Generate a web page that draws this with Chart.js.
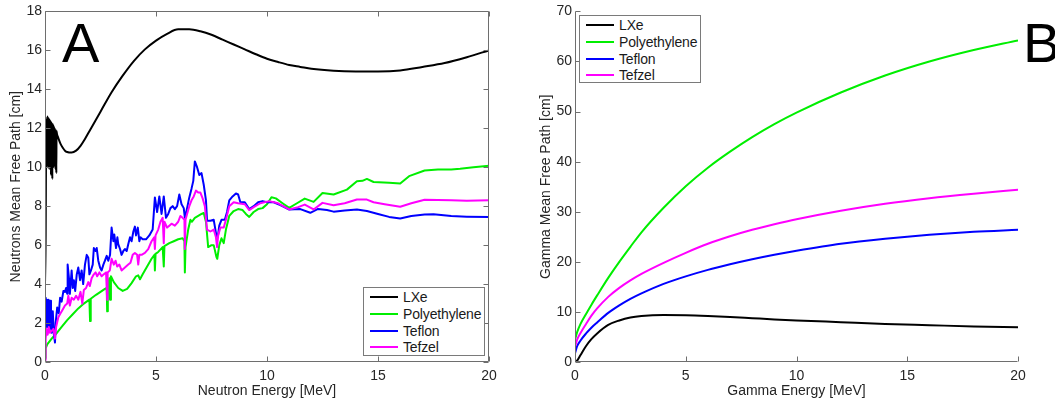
<!DOCTYPE html>
<html><head><meta charset="utf-8">
<script src="https://cdn.jsdelivr.net/npm/chart.js@4.4.1/dist/chart.umd.min.js"></script>
<style>
html,body{margin:0;padding:0;background:#fff;}
#wrap{position:relative;width:1055px;height:400px;overflow:hidden;font-family:"Liberation Sans",Arial,sans-serif;}
.box{position:absolute;top:0;height:400px;}
.legend{position:absolute;border:1px solid #7a7a7a;background:#fff;box-sizing:border-box;padding:1px 0 0 6px;}
.row{display:flex;align-items:center;height:16.7px;font-size:14px;color:#1a1a1a;white-space:nowrap;letter-spacing:-0.15px;}
.sw{width:28px;height:2px;margin-right:5px;flex:none;}
</style></head>
<body><div id="wrap">
<div class="box" style="left:0;width:530px;"><canvas id="cA"></canvas></div>
<div class="box" style="left:530px;width:525px;"><canvas id="cB"></canvas></div>
<div class="legend" id="legA" style="left:363px;top:287px;width:122px;height:69px;"></div>
<div class="legend" id="legB" style="left:579px;top:15px;width:122px;height:68px;"></div>
</div>
<script>
// ---------- DATA ----------
const seriesNames = ['LXe', 'Polyethylene', 'Teflon', 'Tefzel'];
const energyTicks = [0, 5, 10, 15, 20];
const neutronYTicks = [0, 2, 4, 6, 8, 10, 12, 14, 16, 18];
const gammaYTicks = [0, 10, 20, 30, 40, 50, 60, 70];

// Neutron mean free path (panel A)
const nLxeE = [0, 0.03, 0.05, 0.06, 0.07, 0.08, 0.09, 0.10, 0.11, 0.12, 0.13, 0.14, 0.15, 0.16, 0.17, 0.18, 0.19, 0.20, 0.21, 0.22, 0.23, 0.24, 0.25, 0.26, 0.27, 0.28, 0.29, 0.30, 0.31, 0.32, 0.33, 0.34, 0.35, 0.36, 0.37, 0.38, 0.39, 0.40, 0.41, 0.42, 0.43, 0.44, 0.45, 0.46, 0.47, 0.48, 0.49, 0.50, 0.51, 0.52, 0.54, 0.6, 0.7, 0.8, 0.9, 1.0, 1.2, 1.4, 1.6, 1.8, 2.0, 2.25, 2.5, 3.0, 3.5, 4.0, 4.5, 5.0, 5.5, 6.0, 6.5, 7.0, 7.5, 8.0, 8.5, 9.0, 9.5, 10, 10.5, 11, 11.5, 12, 13, 14, 15, 16, 17, 18, 19, 20];
const nLxeV = [4.0, 6.5, 11.5, 12.2, 10.3, 12.5, 10.1, 12.6, 10.4, 12.6, 10.0, 12.55, 10.5, 12.5, 10.2, 12.5, 9.9, 12.45, 10.6, 12.4, 10.2, 12.4, 10.4, 12.35, 9.6, 12.3, 10.5, 12.3, 10.1, 12.25, 9.4, 12.2, 10.3, 12.2, 10.6, 12.15, 10.0, 12.1, 10.5, 12.05, 10.2, 12.0, 10.6, 11.95, 9.9, 11.9, 10.4, 11.9, 9.7, 11.85, 11.7, 11.5, 11.2, 11.0, 10.85, 10.78, 10.75, 10.85, 11.1, 11.45, 11.85, 12.35, 12.85, 13.85, 14.7, 15.45, 16.05, 16.5, 16.85, 17.08, 17.08, 16.98, 16.8, 16.55, 16.3, 16.05, 15.8, 15.57, 15.4, 15.25, 15.15, 15.05, 14.95, 14.92, 14.92, 14.97, 15.15, 15.35, 15.65, 16.0];

const nPolyE = [0, 0.03, 0.1, 0.3, 0.5, 0.75, 1.0, 1.25, 1.5, 1.75, 2.0, 2.03, 2.06, 2.3, 2.5, 2.7, 2.78, 2.8, 2.83, 2.9, 2.93, 2.97, 3.1, 3.3, 3.5, 3.7, 3.9, 4.1, 4.2, 4.28, 4.4, 4.6, 4.8, 4.93, 4.95, 4.98, 5.1, 5.3, 5.35, 5.38, 5.6, 5.8, 6.0, 6.2, 6.28, 6.3, 6.33, 6.45, 6.55, 6.62, 6.75, 6.9, 7.05, 7.15, 7.25, 7.35, 7.5, 7.6, 7.72, 7.76, 7.85, 7.95, 8.05, 8.15, 8.3, 8.5, 8.7, 8.9, 9.05, 9.2, 9.4, 9.6, 9.8, 10.0, 10.2, 10.4, 10.7, 11.0, 11.35, 11.7, 12.1, 12.5, 13.0, 13.6, 14.05, 14.3, 14.5, 14.8, 15.5, 16.0, 16.4, 17.1, 17.7, 18.3, 18.7, 19.3, 20.0];
const nPolyV = [0.2, 0.7, 0.9, 1.2, 1.45, 1.8, 2.15, 2.45, 2.75, 3.0, 3.2, 2.1, 3.25, 3.45, 3.6, 3.75, 3.8, 2.6, 3.85, 4.3, 3.2, 4.4, 4.1, 3.8, 3.65, 3.75, 4.05, 4.4, 4.45, 4.25, 4.5, 4.9, 5.3, 5.5, 4.7, 5.55, 5.65, 5.9, 4.9, 5.95, 6.1, 6.2, 6.3, 6.35, 6.2, 4.6, 5.9, 6.8, 7.3, 7.2, 7.4, 7.5, 7.6, 7.65, 7.2, 5.9, 6.0, 6.0, 5.4, 5.3, 6.0, 6.35, 6.1, 6.8, 7.5, 7.75, 7.85, 7.8, 7.6, 7.45, 7.7, 7.85, 7.9, 8.1, 8.46, 8.4, 8.15, 7.91, 8.15, 8.39, 8.22, 8.68, 8.6, 8.85, 9.28, 9.3, 9.4, 9.24, 9.2, 9.16, 9.54, 9.83, 9.88, 9.88, 9.92, 10.0, 10.07];

const nTeflonE = [0, 0.03, 0.06, 0.09, 0.12, 0.16, 0.20, 0.23, 0.27, 0.30, 0.35, 0.40, 0.45, 0.48, 0.55, 0.62, 0.68, 0.75, 0.83, 0.90, 0.95, 1.00, 1.02, 1.08, 1.12, 1.20, 1.25, 1.30, 1.36, 1.43, 1.50, 1.58, 1.65, 1.72, 1.80, 1.88, 1.95, 2.0, 2.07, 2.15, 2.2, 2.28, 2.33, 2.4, 2.48, 2.55, 2.63, 2.7, 2.78, 2.85, 2.93, 3.0, 3.08, 3.12, 3.2, 3.26, 3.3, 3.38, 3.45, 3.53, 3.6, 3.68, 3.75, 3.83, 3.9, 3.98, 4.05, 4.1, 4.18, 4.25, 4.3, 4.4, 4.55, 4.7, 4.85, 4.95, 5.05, 5.15, 5.25, 5.35, 5.45, 5.55, 5.65, 5.75, 5.85, 5.95, 6.05, 6.15, 6.25, 6.3, 6.4, 6.5, 6.6, 6.68, 6.75, 6.85, 6.95, 7.05, 7.15, 7.25, 7.3, 7.45, 7.6, 7.72, 7.78, 7.85, 7.95, 8.1, 8.2, 8.3, 8.45, 8.6, 8.7, 8.8, 9.0, 9.2, 9.4, 9.6, 9.8, 10.0, 10.3, 10.6, 11.0, 11.5, 11.95, 12.3, 12.7, 13.0, 13.5, 14.05, 14.5, 15.0, 15.5, 16.0, 16.5, 17.1, 17.5, 18.3, 19.0, 20.0];
const nTeflonV = [1.5, 3.3, 2.2, 3.2, 1.8, 3.2, 1.7, 3.15, 2.0, 1.5, 2.6, 1.4, 1.0, 2.0, 2.8, 2.5, 3.3, 3.1, 3.65, 3.6, 3.8, 3.5, 5.0, 4.3, 3.5, 4.7, 3.8, 4.2, 3.65, 4.5, 4.85, 4.2, 4.7, 4.0, 5.0, 5.5, 5.35, 4.5, 4.7, 5.0, 5.85, 5.7, 5.85, 5.2, 4.85, 4.7, 5.0, 5.2, 5.45, 5.2, 5.5, 6.9, 6.2, 6.55, 5.85, 6.4, 6.05, 5.8, 5.5, 5.7, 5.8, 5.7, 6.05, 6.4, 6.2, 6.7, 6.95, 6.5, 6.9, 6.2, 6.4, 6.3, 6.3, 6.5, 6.8, 8.45, 7.7, 8.5, 7.6, 8.5, 7.4, 7.6, 7.9, 8.0, 7.85, 8.0, 8.6, 8.1, 7.9, 7.4, 7.9, 8.45, 8.9, 9.3, 10.3, 10.0, 9.6, 9.7, 9.1, 8.3, 7.25, 7.25, 7.3, 6.5, 6.4, 7.0, 7.3, 7.3, 7.7, 8.3, 8.5, 8.65, 8.6, 8.2, 8.2, 7.85, 8.0, 8.2, 8.26, 8.2, 8.2, 8.05, 7.83, 7.85, 7.66, 7.86, 7.8, 7.72, 7.78, 7.83, 7.75, 7.6, 7.45, 7.37, 7.5, 7.57, 7.58, 7.49, 7.46, 7.44];

const nTefzelE = [0, 0.03, 0.07, 0.12, 0.17, 0.22, 0.3, 0.38, 0.45, 0.5, 0.6, 0.7, 0.8, 0.9, 1.0, 1.05, 1.12, 1.2, 1.3, 1.4, 1.5, 1.6, 1.68, 1.75, 1.85, 1.95, 2.02, 2.1, 2.2, 2.28, 2.35, 2.45, 2.55, 2.65, 2.75, 2.8, 2.82, 2.92, 3.0, 3.1, 3.18, 3.25, 3.35, 3.45, 3.55, 3.65, 3.75, 3.85, 3.95, 4.05, 4.15, 4.2, 4.25, 4.35, 4.5, 4.65, 4.8, 4.92, 4.95, 4.98, 5.1, 5.2, 5.3, 5.35, 5.38, 5.5, 5.6, 5.7, 5.85, 6.0, 6.1, 6.2, 6.28, 6.3, 6.33, 6.4, 6.5, 6.6, 6.7, 6.8, 6.9, 7.0, 7.1, 7.2, 7.3, 7.45, 7.6, 7.7, 7.75, 7.8, 7.9, 8.05, 8.15, 8.3, 8.5, 8.7, 9.0, 9.2, 9.4, 9.7, 10.1, 10.5, 11.0, 11.4, 11.7, 12.1, 12.5, 13.0, 13.5, 14.05, 14.5, 14.8, 15.3, 16.0, 16.5, 17.1, 17.7, 18.3, 19.0, 20.0];
const nTefzelV = [0.1, 1.2, 1.7, 1.4, 1.8, 1.5, 1.6, 1.7, 1.2, 1.8, 2.3, 2.5, 2.7, 2.9, 3.0, 3.4, 2.9, 3.3, 3.2, 3.4, 3.2, 3.6, 3.0, 3.7, 3.8, 4.1, 3.9, 4.3, 4.5, 4.6, 4.4, 4.6, 4.4, 4.5, 4.6, 3.2, 4.6, 4.7, 5.3, 5.0, 5.2, 4.9, 5.0, 4.7, 4.8, 4.9, 5.0, 5.1, 5.5, 5.6, 5.5, 5.0, 5.5, 5.5, 5.6, 5.8, 6.2, 6.4, 5.8, 6.5, 6.8, 7.2, 7.4, 6.1, 7.2, 6.9, 7.0, 7.1, 7.0, 7.2, 7.5, 7.4, 7.3, 5.8, 7.3, 7.6, 8.0, 8.3, 8.5, 8.8, 8.7, 8.7, 8.4, 8.0, 6.8, 6.7, 6.8, 6.4, 5.9, 6.5, 6.9, 6.9, 7.3, 8.0, 8.2, 8.15, 8.1, 7.8, 7.95, 8.15, 8.26, 8.15, 7.83, 7.95, 8.08, 7.83, 8.17, 8.05, 8.15, 8.34, 8.34, 8.2, 8.1, 7.97, 8.15, 8.33, 8.32, 8.31, 8.28, 8.3];

// Gamma mean free path (panel B)
const gE = [0, 0.1, 0.25, 0.5, 0.75, 1, 1.5, 2, 2.5, 3, 4, 5, 6, 7, 8, 9, 10, 12, 14, 16, 18, 20];
const gLxe = [0, 0.3, 1.4, 3.2, 4.6, 5.7, 7.4, 8.3, 8.9, 9.2, 9.4, 9.35, 9.2, 9.0, 8.75, 8.5, 8.3, 7.95, 7.6, 7.35, 7.1, 6.95];
const gPoly = [4.5, 6.0, 7.6, 9.6, 11.5, 13.3, 16.8, 20.0, 23.0, 25.9, 30.8, 35.1, 38.8, 42.0, 44.9, 47.5, 49.8, 53.8, 57.2, 60.0, 62.3, 64.2];
const gTeflon = [1.7, 3.2, 4.3, 5.7, 6.9, 7.9, 9.8, 11.3, 12.6, 13.7, 15.6, 17.1, 18.4, 19.5, 20.5, 21.4, 22.2, 23.6, 24.6, 25.4, 26.0, 26.4];
const gTefzel = [3.0, 4.5, 5.8, 7.6, 9.3, 10.7, 13.0, 14.8, 16.3, 17.6, 19.8, 21.8, 23.6, 25.1, 26.4, 27.5, 28.5, 30.2, 31.6, 32.7, 33.6, 34.4];

// ---------- STYLE ----------
const colors = ['#000000', '#00ee00', '#0000ff', '#ff00ff'];
const FONT = '"Liberation Sans", Arial, sans-serif';
const TXT = '#262626';
const AXC = '#6e6e6e';

function pts(xs, ys) { return xs.map((x, i) => ({x: x, y: ys[i]})); }

function mkDatasets(pairs, smoothIdx) {
  return pairs.map((p, i) => ({
    label: seriesNames[i],
    data: pts(p[0], p[1]),
    borderColor: colors[i],
    backgroundColor: colors[i],
    borderWidth: 2,
    pointRadius: 0,
    showLine: true,
    fill: false,
    order: 4 - i,
    cubicInterpolationMode: smoothIdx.includes(i) ? 'monotone' : 'default',
    tension: 0,
    borderJoinStyle: 'round'
  }));
}

const framePlugin = {
  id: 'frame',
  afterDatasetsDraw(chart, args, o) {
    const {ctx, chartArea: a, scales: {x, y}} = chart;
    const L = Math.round(a.left) + 0.5, R = Math.round(a.right) - 0.5;
    const T = Math.round(a.top) + 0.5, B = Math.round(a.bottom) - 0.5;
    ctx.save();
    ctx.strokeStyle = AXC; ctx.lineWidth = 1;
    ctx.beginPath();
    ctx.moveTo(L, T); ctx.lineTo(L, B); ctx.lineTo(R, B);
    if (o.box) { ctx.lineTo(R, T); ctx.lineTo(L, T); }
    const tl = 5;
    x.ticks.forEach(t => {
      const px = Math.round(x.getPixelForValue(t.value)) + 0.5;
      ctx.moveTo(px, B); ctx.lineTo(px, B - tl);
      if (o.box) { ctx.moveTo(px, T); ctx.lineTo(px, T + tl); }
    });
    y.ticks.forEach(t => {
      const py = Math.round(y.getPixelForValue(t.value)) + 0.5;
      ctx.moveTo(L, py); ctx.lineTo(L + tl, py);
      if (o.box) { ctx.moveTo(R, py); ctx.lineTo(R - tl, py); }
    });
    ctx.stroke();
    ctx.fillStyle = '#000';
    ctx.font = '56px ' + FONT;
    ctx.textBaseline = 'alphabetic';
    ctx.textAlign = 'left';
    ctx.fillText(o.letter, o.lx, o.ly);
    ctx.restore();
  }
};

function mkScales(xTitle, yTitle, yMax, yTicks) {
  const tf = {size: 14, family: FONT};
  return {
    x: {
      type: 'linear', min: 0, max: 20,
      afterBuildTicks: s => { s.ticks = energyTicks.map(v => ({value: v})); },
      afterFit: s => { s.height = 38; },
      grid: {display: false, drawTicks: false}, border: {display: false},
      ticks: {padding: 6, color: TXT, font: tf, maxRotation: 0},
      title: {display: true, text: xTitle, color: TXT, font: tf, padding: {top: 0, bottom: 0}}
    },
    y: {
      type: 'linear', min: 0, max: yMax,
      afterBuildTicks: s => { s.ticks = yTicks.map(v => ({value: v})); },
      afterFit: s => { s.width = 42; },
      grid: {display: false, drawTicks: false}, border: {display: false},
      ticks: {padding: 3, color: TXT, font: tf},
      title: {display: true, text: yTitle, color: TXT, font: tf, padding: {top: 5, bottom: 0}}
    }
  };
}

function mkChart(id, datasets, scales, padRight, frameOpts) {
  return new Chart(document.getElementById(id), {
    type: 'scatter',
    data: {datasets: datasets},
    options: {
      responsive: true, maintainAspectRatio: false, animation: false,
      layout: {padding: {left: 3, top: 10, right: padRight, bottom: 0}},
      plugins: {legend: {display: false}, tooltip: {enabled: false}, frame: frameOpts},
      scales: scales
    },
    plugins: [framePlugin]
  });
}

mkChart('cA',
  mkDatasets([[nLxeE, nLxeV], [nPolyE, nPolyV], [nTeflonE, nTeflonV], [nTefzelE, nTefzelV]], [0]),
  mkScales('Neutron Energy [MeV]', 'Neutrons Mean Free Path [cm]', 18, neutronYTicks),
  41, {box: true, letter: 'A', lx: 62, ly: 62});

mkChart('cB',
  mkDatasets([[gE, gLxe], [gE, gPoly], [gE, gTeflon], [gE, gTefzel]], [0, 1, 2, 3]),
  mkScales('Gamma Energy [MeV]', 'Gamma Mean Free Path [cm]', 70, gammaYTicks),
  37, {box: false, letter: 'B', lx: 493, ly: 62});

function mkLegend(id) {
  const el = document.getElementById(id);
  seriesNames.forEach((n, i) => {
    const r = document.createElement('div'); r.className = 'row';
    const s = document.createElement('span'); s.className = 'sw'; s.style.background = colors[i];
    const t = document.createElement('span'); t.textContent = n;
    r.appendChild(s); r.appendChild(t); el.appendChild(r);
  });
}
mkLegend('legA'); mkLegend('legB');
</script></body></html>
